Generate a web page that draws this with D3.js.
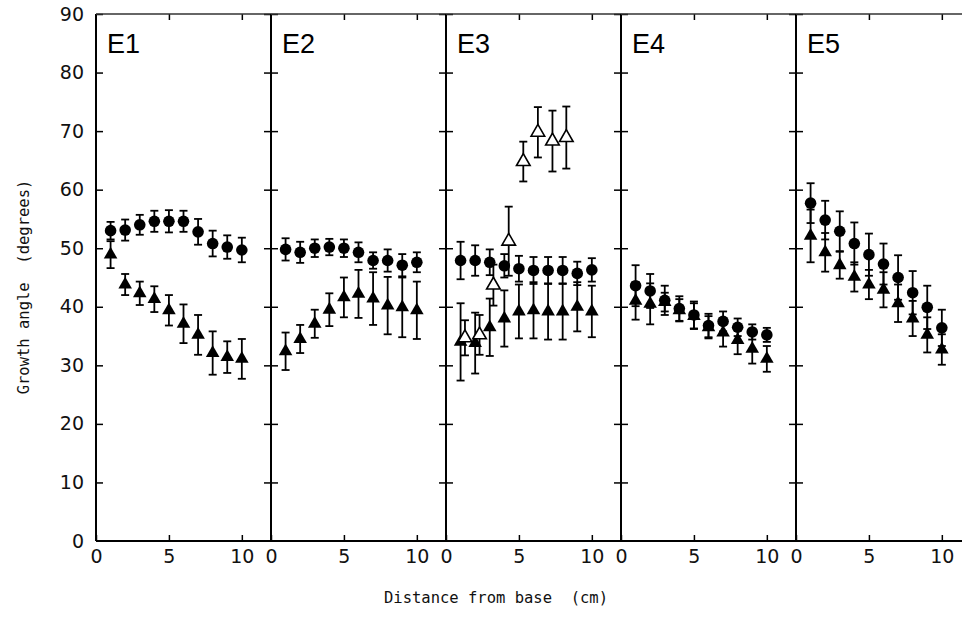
<!DOCTYPE html>
<html>
<head>
<meta charset="utf-8">
<script src="https://cdn.jsdelivr.net/npm/d3@7"></script>
<style>
  body { margin: 0; background: #fff; }
  svg { display: block; }
  .tick-label text { font-family: "DejaVu Sans", sans-serif; font-size: 19px; fill: #111; }
  .axis-title { font-family: "DejaVu Sans Mono", monospace; fill: #111; }
</style>
</head>
<body>
<div id="chart-area"></div>
<script>
// panels and distance positions (cm)
var panels = ["E1", "E2", "E3", "E4", "E5"];
var distance = [1, 2, 3, 4, 5, 6, 7, 8, 9, 10];
var yTicks = [0, 10, 20, 30, 40, 50, 60, 70, 80, 90];
var xTicks = [0, 5, 10];

// filled circles, one row per panel
var circleMean = [
    [53.0, 53.1, 54.0, 54.6, 54.6, 54.6, 52.8, 50.8, 50.2, 49.7],
    [49.8, 49.3, 50.0, 50.2, 50.0, 49.3, 47.9, 47.9, 47.1, 47.6],
    [47.9, 47.9, 47.6, 47.0, 46.5, 46.2, 46.2, 46.2, 45.7, 46.3],
    [43.6, 42.7, 41.1, 39.7, 38.6, 36.8, 37.5, 36.5, 35.7, 35.2],
    [57.7, 54.8, 52.9, 50.8, 48.9, 47.3, 45.0, 42.4, 39.9, 36.4]
];
var circleErr = [
    [1.5, 1.8, 1.7, 1.8, 1.9, 1.8, 2.2, 2.2, 2.0, 2.1],
    [1.9, 1.8, 1.5, 1.4, 1.5, 1.7, 1.4, 1.9, 1.9, 1.7],
    [3.2, 2.6, 2.2, 2.0, 2.2, 2.3, 2.3, 2.3, 2.0, 2.0],
    [3.5, 2.9, 2.5, 2.1, 2.3, 2.0, 1.7, 1.5, 1.3, 1.2],
    [3.4, 3.3, 3.4, 3.6, 3.6, 3.5, 3.8, 3.7, 3.7, 3.1]
];

// filled triangles, one row per panel
var triMean = [
    [48.9, 43.8, 42.3, 41.3, 39.4, 37.1, 35.2, 32.1, 31.4, 31.1],
    [32.4, 34.5, 37.1, 39.5, 41.6, 42.2, 41.4, 40.2, 39.9, 39.4],
    [34.0, 33.8, 36.5, 38.0, 39.2, 39.4, 39.2, 39.2, 40.0, 39.2],
    [41.0, 40.5, 40.8, 39.4, 38.4, 36.5, 35.6, 34.3, 32.8, 31.1],
    [52.1, 49.3, 47.1, 45.1, 43.8, 42.9, 40.6, 38.0, 35.2, 32.7]
];
var triErr = [
    [2.3, 1.8, 2.0, 2.2, 2.6, 3.3, 3.4, 3.7, 2.7, 3.4],
    [3.2, 2.4, 2.4, 2.8, 3.4, 4.1, 4.5, 4.9, 5.1, 4.9],
    [6.6, 5.2, 4.9, 4.8, 4.6, 4.8, 4.8, 4.8, 4.2, 4.4],
    [3.2, 3.5, 1.6, 1.9, 2.2, 1.9, 2.4, 2.4, 2.5, 2.2],
    [4.5, 3.3, 2.3, 2.5, 2.5, 3.0, 3.2, 3.0, 3.0, 2.6]
];

// open triangles, panel E3 only
var openX = [1.3, 2.3, 3.25, 4.3, 5.3, 6.3, 7.3, 8.25];
var openMean = [34.7, 35.2, 43.7, 51.2, 64.8, 69.8, 68.3, 68.9];
var openErr = [3.0, 3.4, 3.5, 5.9, 3.4, 4.3, 5.2, 5.3];

var margin = { left: 96, top: 14 },
    panelW = 175,
    height = 527;

var svg = d3.select("#chart-area").append("svg")
    .attr("width", 962)
    .attr("height", 619);

var g = svg.append("g")
    .attr("transform", "translate(" + margin.left + "," + margin.top + ")");

var x = d3.scaleLinear().domain([0, 12]).range([0, panelW]);
var y = d3.scaleLinear().domain([0, 90]).range([height, 0]);

var tri = d3.symbol().type(d3.symbolTriangle).size(80);

function errorBars(sel, xs, means, errs) {
    var bars = sel.append("g").selectAll("g")
        .data(means.map(function (m, i) { return { x: xs[i], m: m, e: errs[i] }; }))
        .enter().append("g")
        .attr("stroke", "#000")
        .attr("stroke-width", 1.8);
    bars.append("line")
        .attr("x1", function (d) { return x(d.x); })
        .attr("x2", function (d) { return x(d.x); })
        .attr("y1", function (d) { return y(d.m - d.e); })
        .attr("y2", function (d) { return y(d.m + d.e); });
    [-1, 1].forEach(function (s) {
        bars.append("line")
            .attr("x1", function (d) { return x(d.x) - 4; })
            .attr("x2", function (d) { return x(d.x) + 4; })
            .attr("y1", function (d) { return y(d.m + s * d.e); })
            .attr("y2", function (d) { return y(d.m + s * d.e); });
    });
}

panels.forEach(function (name, p) {
    var pg = g.append("g")
        .attr("transform", "translate(" + (p * panelW) + ",0)");

    // y ticks pointing into the panel from both sides
    pg.append("g")
        .call(d3.axisRight(y).tickValues(yTicks.slice(1)).tickSize(7).tickFormat(""))
        .call(function (a) { a.select(".domain").remove(); })
        .selectAll("line").attr("stroke-width", 1.5);
    pg.append("g")
        .attr("transform", "translate(" + panelW + ",0)")
        .call(d3.axisLeft(y).tickValues(yTicks.slice(1)).tickSize(7).tickFormat(""))
        .call(function (a) { a.select(".domain").remove(); })
        .selectAll("line").attr("stroke-width", 1.5);

    // top ticks pointing down
    pg.append("g")
        .call(d3.axisTop(x).tickValues([5, 10]).tickSize(-6).tickFormat(""))
        .call(function (a) { a.select(".domain").remove(); })
        .selectAll("line").attr("stroke-width", 1.5);

    // bottom ticks pointing up, with labels
    var xa = pg.append("g")
        .attr("class", "tick-label")
        .attr("transform", "translate(0," + height + ")")
        .call(d3.axisBottom(x).tickValues(xTicks).tickSize(-6).tickPadding(9))
        .call(function (a) { a.select(".domain").remove(); });
    xa.selectAll("line").attr("stroke-width", 1.5);
    xa.selectAll("text").attr("dy", "0.71em");

    // panel frame
    pg.append("line")
        .attr("x1", 0).attr("x2", 0).attr("y1", 0).attr("y2", height)
        .attr("stroke", "#000").attr("stroke-width", 2);
    pg.append("line")
        .attr("x1", 0).attr("x2", panelW).attr("y1", height).attr("y2", height)
        .attr("stroke", "#000").attr("stroke-width", 2);
    pg.append("line")
        .attr("x1", 0).attr("x2", panelW).attr("y1", 0).attr("y2", 0)
        .attr("stroke", "#333").attr("stroke-width", 1.5);

    // panel name
    pg.append("text")
        .attr("x", 11).attr("y", 39)
        .attr("font-family", "'Liberation Sans', Arial, sans-serif")
        .attr("font-size", 27)
        .text(name);

    // error bars, then markers
    errorBars(pg, distance, circleMean[p], circleErr[p]);
    errorBars(pg, distance, triMean[p], triErr[p]);
    if (name === "E3") errorBars(pg, openX, openMean, openErr);

    pg.append("g").selectAll("circle")
        .data(circleMean[p])
        .enter().append("circle")
        .attr("cx", function (d, i) { return x(distance[i]); })
        .attr("cy", function (d) { return y(d); })
        .attr("r", 5.8)
        .attr("fill", "#000");

    pg.append("g").selectAll("path")
        .data(triMean[p])
        .enter().append("path")
        .attr("d", tri)
        .attr("transform", function (d, i) { return "translate(" + x(distance[i]) + "," + y(d) + ")"; })
        .attr("fill", "#000");

    if (name === "E3") {
        pg.append("g").selectAll("path")
            .data(openMean)
            .enter().append("path")
            .attr("d", tri)
            .attr("transform", function (d, i) { return "translate(" + x(openX[i]) + "," + y(d) + ")"; })
            .attr("fill", "#fff")
            .attr("stroke", "#000")
            .attr("stroke-width", 1.6);
    }
});

// y tick labels on the left
g.append("g")
    .attr("class", "tick-label")
    .call(d3.axisLeft(y).tickValues(yTicks).tickSize(0).tickPadding(12))
    .call(function (a) { a.select(".domain").remove(); });

// Axis titles
svg.append("text")
    .attr("class", "axis-title")
    .attr("transform", "translate(29,287) rotate(-90)")
    .attr("text-anchor", "middle")
    .attr("font-size", 15.5)
    .style("white-space", "pre")
    .text("Growth angle  (degrees)");

svg.append("text")
    .attr("class", "axis-title")
    .attr("x", 496)
    .attr("y", 603)
    .attr("text-anchor", "middle")
    .attr("font-size", 15.5)
    .style("white-space", "pre")
    .text("Distance from base  (cm)");
</script>
</body>
</html>
